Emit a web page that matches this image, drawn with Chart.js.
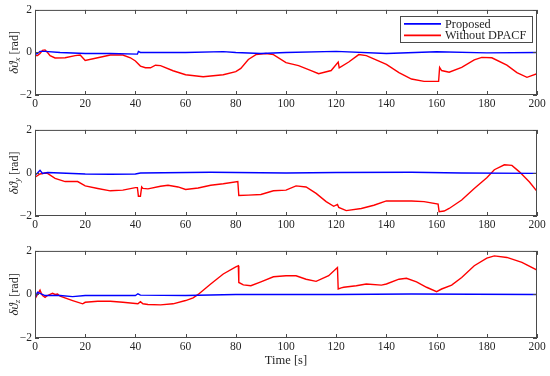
<!DOCTYPE html>
<html>
<head>
<meta charset="utf-8">
<script src="https://cdn.jsdelivr.net/npm/chart.js@4.4.0/dist/chart.umd.min.js"></script>
<style>
  body { margin: 0; background: #fff; }
  #wrap { position: relative; width: 550px; height: 376px; }
  canvas { position: absolute; left: 0; }
</style>
</head>
<body>
<div id="wrap">
  <canvas id="cx" width="550" height="120" style="top:0px"></canvas>
  <canvas id="cy" width="550" height="120" style="top:120px"></canvas>
  <canvas id="cz" width="550" height="135" style="top:241px"></canvas>
</div>
<script>
// axis ticks
let xTicks = [0, 20, 40, 60, 80, 100, 120, 140, 160, 180, 200];
let yTicks = [-2, 0, 2];
let seriesNames = ['Proposed', 'Without DPACF'];

// delta theta_x
let xRedT = [0,1,2,3,4,5,6,8,12,16,18,20,25,30,35,38,40,42,44,46,48,50,55,60,67,75,80,82,85,88,92,95,100,105,110,113,118,120.8,121.2,125,129,132,140,145,150,155,160.8,161.2,162,165,170,175,178,182,188,192,196,200];
let xRedV = [-0.15,-0.15,-0.05,0.1,0.12,0.0,-0.15,-0.26,-0.25,-0.15,-0.12,-0.38,-0.25,-0.12,-0.12,-0.25,-0.4,-0.64,-0.72,-0.72,-0.6,-0.62,-0.86,-1.05,-1.14,-1.05,-0.9,-0.75,-0.33,-0.1,-0.05,-0.1,-0.48,-0.62,-0.85,-1.0,-0.85,-0.45,-0.72,-0.45,-0.1,-0.15,-0.56,-0.95,-1.25,-1.36,-1.36,-0.7,-0.85,-0.93,-0.7,-0.35,-0.23,-0.25,-0.6,-0.95,-1.17,-1.0];
let xBlueT = [0,1,2,4,10,20,30,40.8,41.2,42,60,75,80,90,100,120,140,160,180,200];
let xBlueV = [-0.1,-0.05,0.05,0.05,0.0,-0.05,-0.05,-0.08,0.05,0.0,0.0,0.04,0.0,-0.05,0.0,0.05,-0.05,0.03,-0.02,0.0];

// delta theta_y
let yRedT = [0,2,4,5,8,12,17,20,25,30,35,40,40.8,41.2,42,42.5,43,45,50,53,57,60,65,70,75,80.8,81.2,85,90,95,100,104,108,112,116,119,120.5,121,124,130,135,140,150,155,160.6,161,163,165,170,175,180,183,187,190,193,197,200];
let yRedV = [-0.2,-0.05,0,-0.02,-0.25,-0.4,-0.4,-0.6,-0.72,-0.83,-0.8,-0.68,-0.68,-1.08,-1.08,-0.65,-0.72,-0.74,-0.62,-0.57,-0.65,-0.77,-0.7,-0.57,-0.5,-0.4,-1.05,-1.03,-1.0,-0.83,-0.8,-0.6,-0.65,-0.95,-1.33,-1.55,-1.46,-1.6,-1.75,-1.65,-1.5,-1.3,-1.3,-1.33,-1.45,-1.8,-1.77,-1.65,-1.26,-0.72,-0.22,0.15,0.38,0.35,0.05,-0.42,-0.85];
let yBlueT = [0,1,2,3,5,20,30,40,42,70,100,120,150,170,200];
let yBlueV = [-0.1,0.0,0.12,-0.02,0.02,-0.05,-0.06,-0.05,0.0,0.03,0.0,0.02,0.03,0.0,-0.02];

// delta theta_z
let zRedT = [0,1,2,2.5,3,4,5,6,7,8,9,10,15,19,20,25,30,35,41,42,43,45,50,55,60,63,65,70,75,80,81,81.2,83,86,90,95,100,104,108,112,117,120.5,120.8,122,123,128,132,138,140,145,148,152,156,160,162,166,170,175,180,183,188,194,200];
let zRedV = [-0.2,0,0.2,0.05,-0.05,-0.13,-0.05,0.0,0.05,0.0,0.02,-0.08,-0.28,-0.43,-0.36,-0.31,-0.31,-0.36,-0.43,-0.33,-0.43,-0.46,-0.48,-0.43,-0.28,-0.16,0,0.48,0.94,1.27,1.32,0.55,0.44,0.4,0.58,0.81,0.86,0.86,0.7,0.6,0.86,1.24,0.25,0.3,0.33,0.4,0.48,0.43,0.48,0.7,0.74,0.58,0.33,0.13,0.25,0.43,0.78,1.32,1.67,1.77,1.7,1.47,1.12];
let zBlueT = [0,1,2,4,10,15,20,40,41,42,60,80,100,120,150,200];
let zBlueV = [-0.15,0.1,0.05,-0.05,-0.05,-0.1,-0.05,-0.05,0.03,-0.03,-0.05,0.0,0.0,0.0,0.02,0.0];

const FONT = "'Liberation Serif', 'DejaVu Serif', serif";
const AXIS = '#4a4a4a';
const TXT = '#262626';

function pts(t, v) {
    return t.map((x, i) => ({ x: x, y: v[i] }));
}

// frame + inward ticks like matlab
const framePlugin = {
    id: 'frame',
    afterDatasetsDraw(chart) {
        let a = chart.chartArea, ctx = chart.ctx;
        let sx = chart.scales.x, sy = chart.scales.y;
        ctx.save();
        ctx.strokeStyle = AXIS;
        ctx.lineWidth = 1;
        ctx.strokeRect(a.left + 0.5, a.top + 0.5, a.right - a.left - 1, a.bottom - a.top - 1);
        ctx.beginPath();
        xTicks.forEach(t => {
            let px = Math.round(sx.getPixelForValue(t)) + 0.5;
            ctx.moveTo(px, a.bottom); ctx.lineTo(px, a.bottom - 4);
            ctx.moveTo(px, a.top); ctx.lineTo(px, a.top + 4);
        });
        yTicks.forEach(t => {
            let py = Math.round(sy.getPixelForValue(t)) + 0.5;
            ctx.moveTo(a.left, py); ctx.lineTo(a.left + 4, py);
            ctx.moveTo(a.right, py); ctx.lineTo(a.right - 4, py);
        });
        ctx.stroke();
        ctx.restore();
    }
};

// rotated y label with subscript
const yLabelPlugin = {
    id: 'ylabel',
    afterDraw(chart, args, opts) {
        let a = chart.chartArea, ctx = chart.ctx;
        ctx.save();
        ctx.translate(15, (a.top + a.bottom) / 2);
        ctx.rotate(-Math.PI / 2);
        ctx.fillStyle = TXT;
        ctx.textBaseline = 'middle';
        let big = 'italic 13px ' + FONT, small = 'italic 9px ' + FONT, norm = '12px ' + FONT;
        ctx.font = big; let w1 = ctx.measureText('δϑ').width;
        ctx.font = small; let w2 = ctx.measureText(opts.sub).width;
        ctx.font = norm; let w3 = ctx.measureText(' [rad]').width;
        let x = -(w1 + w2 + w3) / 2;
        ctx.textAlign = 'left';
        ctx.font = big; ctx.fillText('δϑ', x, 0); x += w1;
        ctx.font = small; ctx.fillText(opts.sub, x, 3); x += w2;
        ctx.font = norm; ctx.fillText(' [rad]', x, 0);
        ctx.restore();
    }
};

const legendPlugin = {
    id: 'boxlegend',
    afterDraw(chart, args, opts) {
        if (!opts.show) return;
        let a = chart.chartArea, ctx = chart.ctx;
        let w = 132, h = 26;
        let x0 = a.right - 5 - w, y0 = a.top + 6;
        ctx.save();
        ctx.fillStyle = '#fff';
        ctx.fillRect(x0, y0, w, h);
        ctx.strokeStyle = AXIS;
        ctx.lineWidth = 1;
        ctx.strokeRect(Math.round(x0) + 0.5, Math.round(y0) + 0.5, w, h);
        ctx.font = '12.3px ' + FONT;
        ctx.textBaseline = 'middle';
        ctx.fillStyle = TXT;
        chart.data.datasets.forEach((ds, i) => {
            let yy = y0 + 8 + i * 11.5;
            ctx.strokeStyle = ds.borderColor;
            ctx.lineWidth = 1.6;
            ctx.beginPath();
            ctx.moveTo(x0 + 4, yy); ctx.lineTo(x0 + 41, yy);
            ctx.stroke();
            ctx.fillText(ds.label, x0 + 45, yy + 0.5);
        });
        ctx.restore();
    }
};

function makeChart(id, blue, red, sub, topPad, xh, showTitle, showLegend) {
    new Chart(document.getElementById(id), {
        type: 'line',
        data: {
            datasets: [
                { label: seriesNames[0], data: blue, borderColor: '#0000ff', borderWidth: 1.4 },
                { label: seriesNames[1], data: red, borderColor: '#ff0000', borderWidth: 1.4 }
            ]
        },
        options: {
            responsive: false,
            animation: false,
            events: [],
            elements: { point: { radius: 0 }, line: { tension: 0 } },
            layout: { padding: { top: topPad, right: 13, left: 0, bottom: 0 } },
            plugins: {
                legend: { display: false },
                tooltip: { enabled: false },
                ylabel: { sub: sub },
                boxlegend: { show: showLegend }
            },
            scales: {
                x: {
                    type: 'linear', min: 0, max: 200,
                    afterBuildTicks: s => { s.ticks = xTicks.map(v => ({ value: v })); },
                    grid: { display: false, drawTicks: false },
                    border: { display: false },
                    ticks: { font: { family: FONT, size: 11.5 }, color: TXT, padding: 2, maxRotation: 0, autoSkip: false },
                    title: {
                        display: showTitle, text: 'Time [s]', color: TXT,
                        font: { family: FONT, size: 12.5 }, padding: { top: 0, bottom: 8 }
                    },
                    afterFit: s => { s.height = xh; }
                },
                y: {
                    min: -2, max: 2,
                    afterBuildTicks: s => { s.ticks = yTicks.map(v => ({ value: v })); },
                    grid: { display: false, drawTicks: false },
                    border: { display: false },
                    ticks: {
                        font: { family: FONT, size: 11.5 }, color: TXT, padding: 3, autoSkip: false,
                        callback: v => (v < 0 ? '\u2212' + Math.abs(v) : '' + v)
                    },
                    afterFit: s => { s.width = 35; }
                }
            }
        },
        plugins: [framePlugin, yLabelPlugin, legendPlugin]
    });
}

makeChart('cx', pts(xBlueT, xBlueV), pts(xRedT, xRedV), 'x', 6, 25, false, true);
makeChart('cy', pts(yBlueT, yBlueV), pts(yRedT, yRedV), 'y', 9, 24, false, false);
makeChart('cz', pts(zBlueT, zBlueV), pts(zRedT, zRedV), 'z', 9, 38, true, false);
</script>
</body>
</html>
